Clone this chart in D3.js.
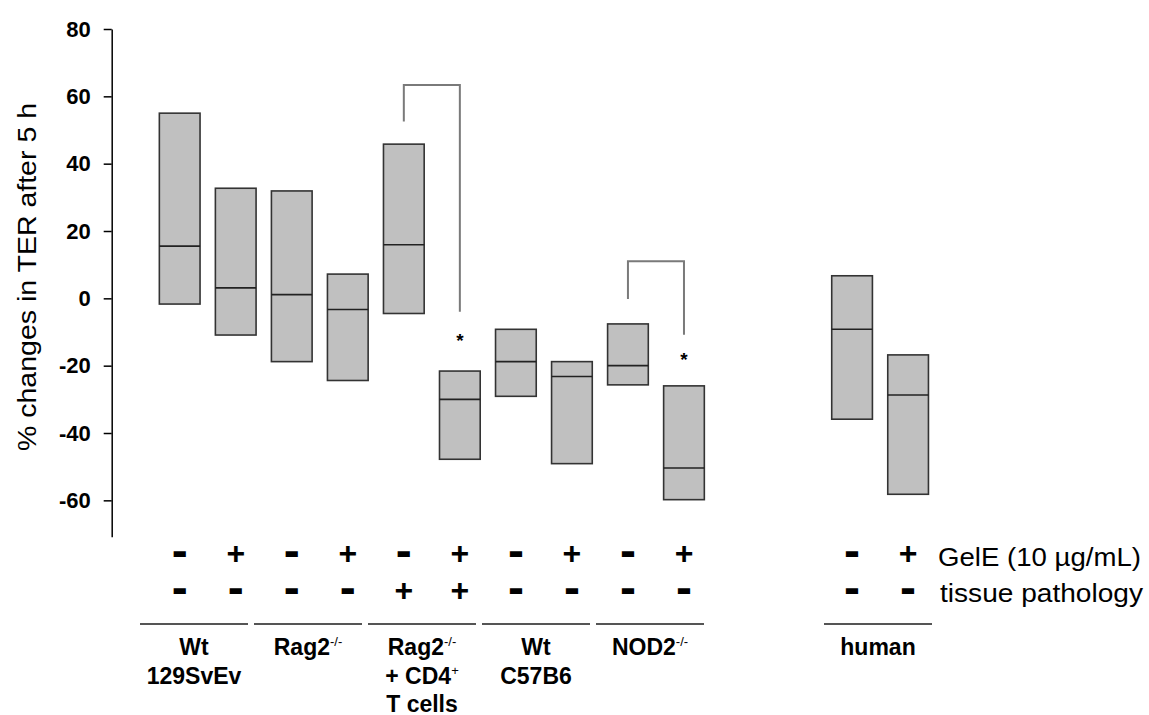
<!DOCTYPE html>
<html>
<head>
<meta charset="utf-8">
<script src="https://cdn.jsdelivr.net/npm/d3@7"></script>
<style>
  body { margin: 0; background: #fff; }
  svg { display: block; }
  text { font-family: "Liberation Sans", Arial, sans-serif; fill: #000; }
</style>
</head>
<body>
<svg id="chart"></svg>
<script>
// % change in TER after 5 h, one floating box (min / median / max) per condition

// slot position of each box along the x axis (human pair sits after a gap)
const slots = [0, 1, 2, 3, 4, 5, 6, 7, 8, 9, 12, 13];
const boxTop    = [55.0, 32.7, 31.9,   7.2,  45.8, -21.6,  -9.2, -18.8,  -7.6, -26.0,   6.7, -16.8];
const boxMid    = [15.5,  3.1,  1.1,  -3.3,  15.9, -30.0, -18.8, -23.2, -20.0, -50.4,  -9.2, -28.7];
const boxBottom = [-1.7, -10.9, -18.8, -24.4, -4.5, -47.8, -29.1, -49.1, -25.7, -59.8, -35.9, -58.2];

const gelE      = ['-', '+', '-', '+', '-', '+', '-', '+', '-', '+', '-', '+'];
const pathology = ['-', '-', '-', '-', '+', '+', '-', '-', '-', '-', '-', '-'];
const rowNames  = ['GelE (10 \u00b5g/mL)', 'tissue pathology'];

// groups under the sign rows: index on the group scale, label lines [text, superscript]
const groupIndex = [0, 1, 2, 3, 4, 6];
const groupLabels = [
  [['Wt', ''], ['129SvEv', '']],
  [['Rag2', '-/-']],
  [['Rag2', '-/-'], ['+ CD4', '+'], ['T cells', '']],
  [['Wt', ''], ['C57B6', '']],
  [['NOD2', '-/-']],
  [['human', '']]
];

// significance brackets: box pair, bracket top, leg ends, star position
const bracketPairs = [[4, 5], [8, 9]];
const bracketTop   = [63.4, 11.0];
const bracketLeft  = [52.5, -0.2];
const bracketRight = [-4.0, -10.8];
const starValue    = [-11.7, -17.3];

const yTicks = [-60, -40, -20, 0, 20, 40, 60, 80];
const yLabel = '% changes in TER after 5 h';

const W = 1149, H = 715;
const BOX_W = 40.7;

const svg = d3.select('#chart').attr('width', W).attr('height', H);

const x = d3.scaleLinear().domain([0, 13]).range([179.7, 908.1]);
const y = d3.scaleLinear().domain([-70.8, 80]).range([536.7, 29]);
const xGroup = d3.scaleLinear().domain([0, 6]).range([140, 824]);
const GROUP_W = 108;

// y axis (plain hyphen for negatives, as in the figure)
const yAxis = d3.axisLeft(y)
  .tickValues(yTicks)
  .tickFormat(d => String(d))
  .tickSize(8)
  .tickSizeOuter(0)
  .tickPadding(13);
const yAxisG = svg.append('g')
  .attr('transform', 'translate(111.7,0)')
  .call(yAxis);
yAxisG.select('.domain').attr('stroke', '#000').attr('stroke-width', 1.5);
yAxisG.selectAll('.tick line').attr('stroke', '#000').attr('stroke-width', 1.5);
yAxisG.selectAll('.tick text')
  .attr('font-size', 22)
  .attr('font-weight', 'bold')
  .attr('font-family', '"Liberation Sans", Arial, sans-serif')
  .attr('fill', '#000');

svg.append('text')
  .attr('transform', 'translate(36,277) rotate(-90)')
  .attr('text-anchor', 'middle')
  .attr('font-size', 25)
  .attr('textLength', 348)
  .attr('lengthAdjust', 'spacingAndGlyphs')
  .text(yLabel);

// boxes
const boxes = svg.append('g').selectAll('g.box')
  .data(slots.map((s, i) => ({ s, top: boxTop[i], mid: boxMid[i], bottom: boxBottom[i] })))
  .join('g').attr('class', 'box');

boxes.append('rect')
  .attr('x', d => x(d.s) - BOX_W / 2)
  .attr('y', d => y(d.top))
  .attr('width', BOX_W)
  .attr('height', d => y(d.bottom) - y(d.top))
  .attr('fill', '#c0c0c0')
  .attr('stroke', '#333')
  .attr('stroke-width', 1.6);

boxes.append('line')
  .attr('x1', d => x(d.s) - BOX_W / 2)
  .attr('x2', d => x(d.s) + BOX_W / 2)
  .attr('y1', d => y(d.mid))
  .attr('y2', d => y(d.mid))
  .attr('stroke', '#222')
  .attr('stroke-width', 1.6);

// brackets and stars
bracketPairs.forEach((p, i) => {
  const x1 = x(slots[p[0]]), x2 = x(slots[p[1]]);
  svg.append('path')
    .attr('d', `M${x1},${y(bracketLeft[i])}V${y(bracketTop[i])}H${x2}V${y(bracketRight[i])}`)
    .attr('fill', 'none')
    .attr('stroke', '#7a7a7a')
    .attr('stroke-width', 2);
  svg.append('text')
    .attr('x', x2)
    .attr('y', y(starValue[i]) + 9)
    .attr('text-anchor', 'middle')
    .attr('font-size', 19)
    .attr('font-weight', 'bold')
    .text('*');
});

// +/- rows
function signRow(signs, cy) {
  svg.append('g').selectAll('text')
    .data(signs.map((s, i) => ({ s, slot: slots[i] })))
    .join('text')
    .attr('x', d => x(d.slot))
    .attr('y', d => d.s === '+' ? cy + 0.31 * 32 : cy + 0.27 * 48)
    .attr('text-anchor', 'middle')
    .attr('font-weight', 'bold')
    .attr('font-size', d => d.s === '+' ? 32 : 48)
    .text(d => d.s);
}
signRow(gelE, 554);
signRow(pathology, 591);

svg.append('text')
  .attr('x', 938).attr('y', 566)
  .attr('font-size', 25)
  .attr('textLength', 203)
  .attr('lengthAdjust', 'spacingAndGlyphs')
  .text(rowNames[0]);
svg.append('text')
  .attr('x', 940).attr('y', 602)
  .attr('font-size', 25)
  .attr('textLength', 203)
  .attr('lengthAdjust', 'spacingAndGlyphs')
  .text(rowNames[1]);

// group lines and labels
const groups = svg.append('g').selectAll('g.group')
  .data(groupIndex.map((g, i) => ({ g, lines: groupLabels[i] })))
  .join('g').attr('class', 'group');

groups.append('line')
  .attr('x1', d => xGroup(d.g))
  .attr('x2', d => xGroup(d.g) + GROUP_W)
  .attr('y1', 624).attr('y2', 624)
  .attr('stroke', '#555')
  .attr('stroke-width', 2);

groups.each(function (d) {
  const g = d3.select(this);
  d.lines.forEach((ln, k) => {
    const t = g.append('text')
      .attr('x', xGroup(d.g) + GROUP_W / 2)
      .attr('y', 655 + k * 28.5)
      .attr('text-anchor', 'middle')
      .attr('font-size', 23)
      .attr('font-weight', 'bold');
    t.append('tspan').text(ln[0]);
    if (ln[1]) {
      t.append('tspan')
        .attr('font-size', 13)
        .attr('font-weight', 'normal')
        .attr('dy', -9)
        .text(ln[1]);
    }
  });
});
</script>
</body>
</html>
